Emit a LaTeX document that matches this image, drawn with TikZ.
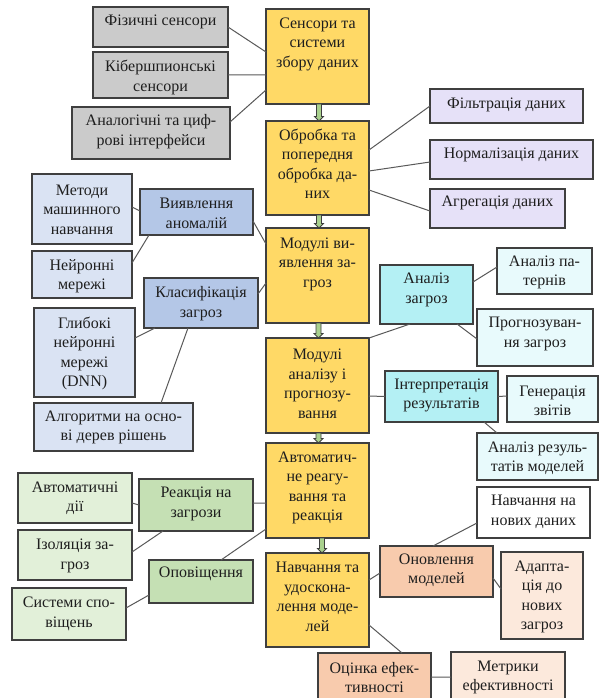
\documentclass[tikz,border=0pt]{standalone}
\usepackage{fontspec}
\setmainfont{Liberation Serif}
\usetikzlibrary{calc}

\definecolor{yelc}{HTML}{FFD966}
\definecolor{greyc}{HTML}{CBCBCB}
\definecolor{lavc}{HTML}{E6E1F8}
\definecolor{bluelc}{HTML}{DAE3F3}
\definecolor{bluedc}{HTML}{B4C7E7}
\definecolor{cyandc}{HTML}{B4F0F4}
\definecolor{cyanlc}{HTML}{E8FAFC}
\definecolor{greenlc}{HTML}{E2F0D9}
\definecolor{greendc}{HTML}{C5E0B4}
\definecolor{orangec}{HTML}{F8CBAD}
\definecolor{orangelc}{HTML}{FCE9DC}
\definecolor{arrowc}{HTML}{A9D18E}
\definecolor{bordc}{HTML}{3F3F3F}
\definecolor{linkc}{HTML}{595959}
\definecolor{txtc}{HTML}{1E1E1E}

\tikzset{
  box/.style={draw=bordc, line width=1.3bp, inner sep=0pt, outer sep=0pt},
  txt/.style={align=center, inner sep=0pt, text=txtc,
              font=\fontsize{16bp}{19.5bp}\selectfont},
  link/.style={draw=linkc, line width=1bp},
  barrow/.style={draw=bordc, fill=arrowc, line width=0.8bp},
  yel/.style={box, fill=yelc},
  grey/.style={box, fill=greyc},
  lav/.style={box, fill=lavc},
  bluel/.style={box, fill=bluelc},
  blued/.style={box, fill=bluedc},
  cyanl/.style={box, fill=cyanlc},
  cyand/.style={box, fill=cyandc},
  greenl/.style={box, fill=greenlc},
  greend/.style={box, fill=greendc},
  whitebox/.style={box, fill=white},
  orange/.style={box, fill=orangec},
  orangel/.style={box, fill=orangelc},
}

% box: name, style, left, top, right, bottom, text centre y, text
\newcommand\mkbox[8]{%
  \node[#2, minimum width={(#5-#3)*1bp}, minimum height={(#6-#4)*1bp}]
    (#1) at ({(#3+#5)/2},{(#4+#6)/2}) {};
  \node[txt] (#1-t) at ({(#3+#5)/2},#7) {#8};
}

% downward block arrow between two stacked boxes
\newcommand\barr[3]{%
  \draw[barrow] let \p1=([xshift=#3bp]#1.south), \p2=([xshift=#3bp]#2.north) in
    (\x1-2.5bp,\y1) -- (\x1+2.5bp,\y1) -- (\x1+2.5bp,\y2+4.5bp)
    -- (\x1+4.5bp,\y2+4.5bp) -- (\x1,\y2) -- (\x1-4.5bp,\y2+4.5bp)
    -- (\x1-2.5bp,\y2+4.5bp) -- cycle;
}

\begin{document}
\begin{tikzpicture}[x=1bp,y=-1bp]
\useasboundingbox (0,0) rectangle (599,698);
\clip (0,0) rectangle (599,698);
\fill[white] (0,0) rectangle (599,698);

% main column
\mkbox{y1}{yel}{266}{9}{369}{104}{44}{Сенсори та\\системи\\збору даних}
\mkbox{y2}{yel}{266}{121}{369}{215}{164}{Обробка та\\попередня\\обробка да-\\них}
\mkbox{y3}{yel}{266}{228}{369}{323}{264}{Модулі ви-\\явлення за-\\гроз}
\mkbox{y4}{yel}{266}{338}{369}{433}{384}{Модулі\\аналізу і\\прогнозу-\\вання}
\mkbox{y5}{yel}{266}{443}{369}{538}{488}{Автоматич-\\не реагу-\\вання та\\реакція}
\mkbox{y6}{yel}{266}{553}{369}{647}{597}{Навчання та\\удоскона-\\лення моде-\\лей}

% sensors
\mkbox{fiz}{grey}{93}{7}{228}{47}{22}{Фізичні сенсори}
\mkbox{kib}{grey}{93}{52}{228}{98}{77.5}{Кібершпионські\\сенсори}
\mkbox{anl}{grey}{72}{107}{230}{159}{131.5}{Аналогічні та циф-\\рові інтерфейси}

% preprocessing
\mkbox{fil}{lav}{430}{89}{583}{123}{105}{Фільтрація даних}
\mkbox{nrm}{lav}{430}{140}{593}{179}{155}{Нормалізація даних}
\mkbox{agr}{lav}{430}{189}{565}{228}{203}{Агрегація даних}

% detection
\mkbox{met}{bluel}{32}{174}{132}{244}{209.5}{Методи\\машинного\\навчання}
\mkbox{nei}{bluel}{32}{251}{132}{298}{276}{Нейронні\\мережі}
\mkbox{vya}{blued}{140}{189}{253}{235}{213.5}{Виявлення\\аномалій}
\mkbox{kla}{blued}{144}{278}{258}{328}{303.5}{Класифікація\\загроз}
\mkbox{glb}{bluel}{34}{308}{135}{397}{353.5}{Глибокі\\нейронні\\мережі\\(DNN)}
\mkbox{alg}{bluel}{34}{403}{193}{451}{427.5}{Алгоритми на осно-\\ві дерев рішень}

% analysis
\mkbox{anz}{cyand}{380}{265}{473}{324}{290}{Аналіз\\загроз}
\mkbox{pat}{cyanl}{497}{248}{592}{294}{272.5}{Аналіз па-\\тернів}
\mkbox{prg}{cyanl}{477}{309}{593}{366}{334}{Прогнозуван-\\ня загроз}
\mkbox{int}{cyand}{385}{371}{498}{422}{395.5}{Інтерпретація\\результатів}
\mkbox{gen}{cyanl}{507}{376}{598}{422}{401}{Генерація\\звітів}
\mkbox{res}{cyanl}{477}{433}{598}{480}{458}{Аналіз резуль-\\татів моделей}

% response
\mkbox{avt}{greenl}{18}{473}{132}{523}{498}{Автоматичні\\дії}
\mkbox{izo}{greenl}{18}{530}{132}{580}{556}{Ізоляція за-\\гроз}
\mkbox{rea}{greend}{139}{479}{253}{531}{504}{Реакція на\\загрози}
\mkbox{opo}{greend}{149}{560}{253}{603}{574}{Оповіщення}
\mkbox{sys}{greenl}{12}{588}{126}{640}{614}{Системи спо-\\віщень}

% learning
\mkbox{nav}{whitebox}{477}{487}{590}{538}{512}{Навчання на\\нових даних}
\mkbox{onv}{orange}{380}{546}{493}{597}{570}{Оновлення\\моделей}
\mkbox{ada}{orangel}{501}{552}{583}{639}{597}{Адапта-\\ція до\\нових\\загроз}
\mkbox{ots}{orange}{318}{653}{431}{704}{677.5}{Оцінка ефек-\\тивності}
\mkbox{mtr}{orangel}{451}{652}{565}{704}{677.5}{Метрики\\ефективності}

% connectors
\draw[link] (fiz.east) -- ([yshift=4.5bp]y1.west);
\draw[link] (kib.east) -- ([yshift=-18.5bp]y1.west);
\draw[link] ([yshift=11bp]anl.east) -- ([yshift=-33.5bp]y1.west);
\draw[link] ([yshift=18bp]y2.east) -- (fil.west);
\draw[link] ([yshift=-3bp]y2.east) -- ([yshift=-2.5bp]nrm.west);
\draw[link] ([yshift=-22bp]y2.east) -- ([yshift=-2.5bp]agr.west);
\draw[link] ([yshift=-9bp]vya.east) -- ([yshift=31.5bp]y3.west);
\draw[link] ([yshift=9bp]kla.east) -- ([yshift=-7.5bp]y3.west);
\draw[link] ([yshift=2bp]met.east) -- ([yshift=1bp]vya.west);
\draw[link] ([yshift=11.5bp]nei.east) -- ([xshift=-47.5bp]vya.south);
\draw[link] ([yshift=14.5bp]glb.east) -- ([xshift=-46bp]kla.south);
\draw[link] ([xshift=47.5bp]alg.north) -- ([xshift=-13bp]kla.south);
\draw[link] (y4.north east) -- ([xshift=-16.5bp]anz.south);
\draw[link] ([yshift=-10.5bp]y4.east) -- (int.west);
\draw[link] ([yshift=12.5bp]anz.east) -- ([yshift=4bp]pat.west);
\draw[link] ([xshift=30.5bp]anz.south) -- ([yshift=-1.5bp]prg.west);
\draw[link] (int.east) -- ([yshift=3bp]gen.west);
\draw[link] ([xshift=42.5bp]int.south) -- ([xshift=-40.5bp]res.north);
\draw[link] ([yshift=2bp]rea.east) -- ([yshift=-12.5bp]y5.west);
\draw[link] ([yshift=-5bp]avt.east) -- (rea.west);
\draw[link] ([yshift=3bp]izo.east) -- ([xshift=-33bp]rea.south);
\draw[link] ([xshift=20bp]opo.north) -- ([yshift=-38.5bp]y5.west);
\draw[link] ([yshift=6bp]sys.east) -- ([yshift=-13.5bp]opo.west);
\draw[link] ([yshift=20bp]y6.east) -- ([yshift=-1.5bp]onv.west);
\draw[link] ([xshift=-3.5bp]onv.north) -- ([yshift=-10.5bp]nav.west);
\draw[link] ([yshift=-6.5bp]onv.east) -- ([yshift=6.5bp]ada.west);
\draw[link] ([yshift=-25bp]y6.east) -- ([xshift=27.5bp]ots.north);
\draw[link] ([yshift=1.5bp]ots.east) -- ([yshift=1bp]mtr.west);

% flow arrows down the main column
\barr{y1}{y2}{1.5}
\barr{y2}{y3}{1.5}
\barr{y3}{y4}{1}
\barr{y4}{y5}{1}
\barr{y5}{y6}{4.5}
\end{tikzpicture}
\end{document}
